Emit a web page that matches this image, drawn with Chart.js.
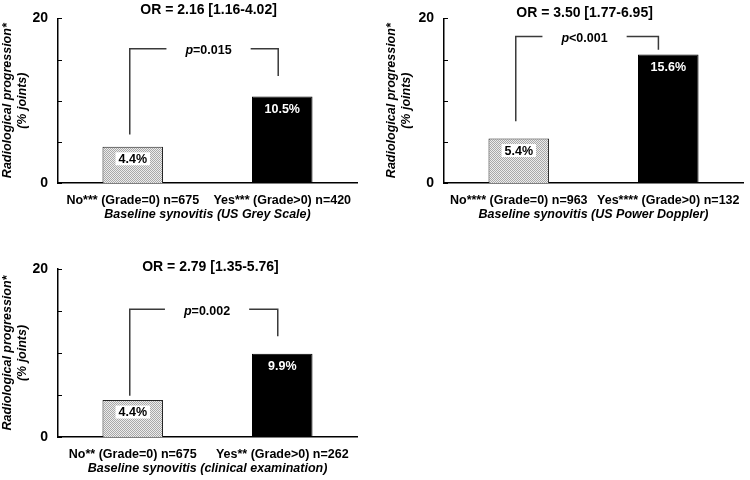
<!DOCTYPE html>
<html><head><meta charset="utf-8">
<script src="https://cdn.jsdelivr.net/npm/chart.js@4.4.1/dist/chart.umd.min.js"></script>
<style>
html,body{margin:0;padding:0;background:#fff;width:750px;height:480px;overflow:hidden;}
canvas{position:absolute;}
</style></head><body>
<canvas id="c1" width="370" height="240" style="left:0;top:0;width:370px;height:240px"></canvas>
<canvas id="c2" width="380" height="240" style="left:370px;top:0;width:380px;height:240px"></canvas>
<canvas id="c3" width="370" height="240" style="left:0;top:240px;width:370px;height:240px"></canvas>
<script>
// ---- data ----
const categoriesGrey = ['No*** (Grade=0) n=675', 'Yes*** (Grade>0) n=420'];
const valuesGrey = [4.4, 10.5];
const categoriesDoppler = ['No**** (Grade=0) n=963', 'Yes**** (Grade>0) n=132'];
const valuesDoppler = [5.4, 15.6];
const categoriesClinical = ['No** (Grade=0) n=675', 'Yes** (Grade>0) n=262'];
const valuesClinical = [4.4, 9.9];
const orTitles = ['OR = 2.16 [1.16-4.02]', 'OR = 3.50 [1.77-6.95]', 'OR = 2.79 [1.35-5.76]'];
const pLabels = ['=0.015', '<0.001', '=0.002'];
const xTitles = ['Baseline synovitis (US Grey Scale)', 'Baseline synovitis (US Power Doppler)', 'Baseline synovitis (clinical examination)'];
const yTitle = ['Radiological progression*', '(% joints)'];
const yTickValues = [0, 5, 10, 15, 20];
const yTickLabels = ['0', '', '', '', '20'];
const bracketTop = [16.3, 17.8, 15.2];
const bracketLeftEnd = [5.9, 7.5, 4.9];
const bracketRightEnd = [13.0, 16.2, 12.0];

// ---- layout (positions/styles) ----
const FONT = "'Liberation Sans', Arial, sans-serif";
const layouts = [
  {padLeft: 0, yWidth: 58, padTop: 14, padRight: 13, xHeight: 57, legL: -0.02, legR: 0.973, pX: 0.507, titleX: 0.507, titleDy: -8},
  {padLeft: 14, yWidth: 60, padTop: 10, padRight: 2, xHeight: 57, legL: -0.02, legR: 0.934, pX: 0.44, titleX: 0.44, titleDy: -5},
  {padLeft: 0, yWidth: 58, padTop: 29, padRight: 13, xHeight: 43, legL: -0.02, legR: 0.97, pX: 0.497, titleX: 0.52, titleDy: -2}
];

function makePattern() {
  const c = document.createElement('canvas');
  c.width = 2; c.height = 2;
  const g = c.getContext('2d');
  g.fillStyle = '#ececec'; g.fillRect(0, 0, 2, 2);
  g.fillStyle = '#a8a8a8'; g.fillRect(0, 0, 1, 1); g.fillRect(1, 1, 1, 1);
  return g.createPattern(c, 'repeat');
}

function makePlugin(idx, values) {
  const L = layouts[idx];
  return {
    id: 'annot' + idx,
    afterDatasetsDraw(chart) {
      const ctx = chart.ctx;
      const meta = chart.getDatasetMeta(0);
      ctx.save();
      ctx.font = 'bold 12.5px ' + FONT;
      ctx.textAlign = 'center';
      ctx.textBaseline = 'middle';
      meta.data.forEach((bar, i) => {
        const txt = values[i].toFixed(1) + '%';
        const y = bar.y + 12;
        if (i === 0) {
          const w = ctx.measureText(txt).width + 6;
          ctx.fillStyle = '#fff';
          ctx.fillRect(bar.x - w / 2, y - 6.5, w, 13);
          ctx.fillStyle = '#000';
        } else {
          ctx.fillStyle = '#fff';
        }
        ctx.fillText(txt, bar.x, y + 0.5);
      });
      ctx.restore();
    },
    afterDraw(chart) {
      const ctx = chart.ctx;
      const xs = chart.scales.x, ys = chart.scales.y, area = chart.chartArea;
      ctx.save();
      // inward tick marks
      ctx.strokeStyle = '#000';
      ctx.lineWidth = 1;
      yTickValues.forEach(v => {
        const y = Math.round(ys.getPixelForValue(v)) + 0.5;
        ctx.beginPath(); ctx.moveTo(area.left, y); ctx.lineTo(area.left + 4, y); ctx.stroke();
      });
      // p-value text
      const cx = xs.getPixelForValue(L.pX);
      const ty = ys.getPixelForValue(bracketTop[idx]);
      ctx.textBaseline = 'middle';
      ctx.textAlign = 'left';
      ctx.font = 'italic bold 12.5px ' + FONT;
      const wP = ctx.measureText('p').width;
      ctx.font = 'bold 12.5px ' + FONT;
      const wR = ctx.measureText(pLabels[idx]).width;
      const tw = wP + wR;
      const sx = cx - tw / 2;
      ctx.fillStyle = '#000';
      ctx.font = 'italic bold 12.5px ' + FONT;
      ctx.fillText('p', sx, ty + 2);
      ctx.font = 'bold 12.5px ' + FONT;
      ctx.fillText(pLabels[idx], sx + wP, ty + 2);
      // bracket
      const xl = xs.getPixelForValue(L.legL), xr = xs.getPixelForValue(L.legR);
      const gap = 19;
      ctx.strokeStyle = '#3a3a3a';
      ctx.lineWidth = 1.5;
      ctx.beginPath();
      ctx.moveTo(xl, ys.getPixelForValue(bracketLeftEnd[idx]));
      ctx.lineTo(xl, ty);
      ctx.lineTo(sx - gap, ty);
      ctx.moveTo(sx + tw + gap, ty);
      ctx.lineTo(xr, ty);
      ctx.lineTo(xr, ys.getPixelForValue(bracketRightEnd[idx]));
      ctx.stroke();
      // OR title
      ctx.font = 'bold 14px ' + FONT;
      ctx.textAlign = 'center';
      ctx.fillStyle = '#000';
      ctx.fillText(orTitles[idx], xs.getPixelForValue(L.titleX), area.top + L.titleDy);
      ctx.restore();
    }
  };
}

function buildChart(canvasId, idx, categories, values) {
  const L = layouts[idx];
  return new Chart(document.getElementById(canvasId), {
    type: 'bar',
    data: {
      labels: categories,
      datasets: [{
        data: values,
        backgroundColor: [makePattern(), '#000'],
        borderColor: ['#222', '#000'],
        borderWidth: 1,
        categoryPercentage: 1,
        barPercentage: 0.405
      }]
    },
    options: {
      responsive: false,
      animation: false,
      devicePixelRatio: 1,
      layout: {padding: {left: L.padLeft, top: L.padTop, right: L.padRight, bottom: 0}},
      plugins: {legend: {display: false}, tooltip: {enabled: false}, title: {display: false}},
      scales: {
        x: {
          grid: {display: false, drawTicks: false},
          border: {display: true, color: '#000', width: 1.5},
          ticks: {color: '#000', font: {family: FONT, size: 12.5, weight: 'bold'}, padding: 10, maxRotation: 0, autoSkip: false},
          title: {display: true, text: xTitles[idx], color: '#000',
                  font: {family: FONT, size: 12.5, weight: 'bold', style: 'italic'},
                  padding: {top: 0, bottom: L.xHeight - 32 - 7.5}},
          afterFit: s => { s.height = L.xHeight; }
        },
        y: {
          min: 0, max: 20,
          grid: {display: false, drawTicks: false},
          border: {display: true, color: '#000', width: 1.5},
          afterBuildTicks: s => { s.ticks = yTickValues.map(v => ({value: v})); },
          ticks: {color: '#000', font: {family: FONT, size: 14, weight: 'bold'}, padding: 10,
                  callback: v => yTickLabels[yTickValues.indexOf(v)]},
          title: {display: true, text: yTitle, color: '#000',
                  font: {family: FONT, size: 12.5, weight: 'bold', style: 'italic', lineHeight: 1.2},
                  padding: {top: 0, bottom: 0}},
          afterFit: s => { s.width = L.yWidth; }
        }
      }
    },
    plugins: [makePlugin(idx, values)]
  });
}

buildChart('c1', 0, categoriesGrey, valuesGrey);
buildChart('c2', 1, categoriesDoppler, valuesDoppler);
buildChart('c3', 2, categoriesClinical, valuesClinical);
</script>
</body></html>
